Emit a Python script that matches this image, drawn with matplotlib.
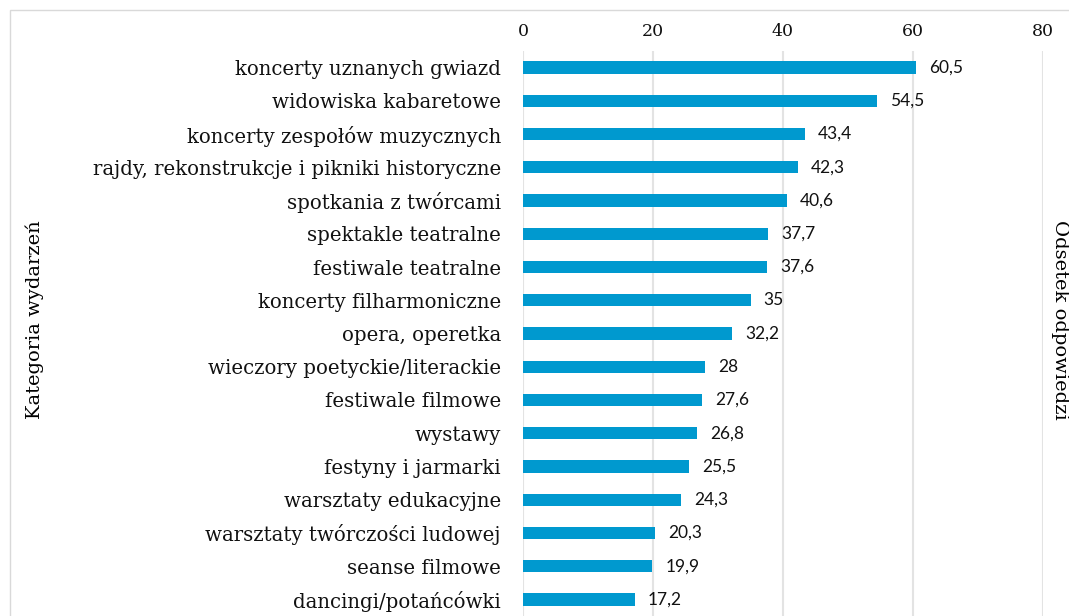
import matplotlib.pyplot as plt
from matplotlib.patches import Rectangle

categories = [
    "koncerty uznanych gwiazd",
    "widowiska kabaretowe",
    "koncerty zespołów muzycznych",
    "rajdy, rekonstrukcje i pikniki historyczne",
    "spotkania z twórcami",
    "spektakle teatralne",
    "festiwale teatralne",
    "koncerty filharmoniczne",
    "opera, operetka",
    "wieczory poetyckie/literackie",
    "festiwale filmowe",
    "wystawy",
    "festyny i jarmarki",
    "warsztaty edukacyjne",
    "warsztaty twórczości ludowej",
    "seanse filmowe",
    "dancingi/potańcówki",
]
values = [60.5, 54.5, 43.4, 42.3, 40.6, 37.7, 37.6, 35, 32.2, 28, 27.6, 26.8, 25.5, 24.3, 20.3, 19.9, 17.2]
x_ticks = [0, 20, 40, 60, 80]

serif = "DejaVu Serif"
bar_color = "#0099cf"
grid_color = "#e3e3e3"

fig = plt.figure(figsize=(10.69, 6.16), dpi=100)
ax = fig.add_axes([523 / 1069, 0.0, 520 / 1069, 565 / 616])

ypos = list(range(len(categories)))
ax.barh(ypos, values, height=0.37, color=bar_color, zorder=3)
ax.set_ylim(len(categories) - 0.5, -0.5)
ax.set_xlim(0, 80)

ax.set_yticks(ypos)
ax.set_yticklabels(categories, fontfamily=serif, fontsize=14.2, color="#111111")
ax.tick_params(axis="y", length=0, pad=16)

ax.xaxis.tick_top()
ax.set_xticks(x_ticks)
ax.set_xticklabels([str(t) for t in x_ticks], fontfamily=serif, fontsize=12.5, color="#111111")
ax.tick_params(axis="x", length=0, pad=8)
ax.grid(axis="x", color=grid_color, linewidth=1.5, zorder=0)

for s in ax.spines.values():
    s.set_visible(False)

for y, v in zip(ypos, values):
    ax.text(v + 2.0, y, f"{v:g}".replace(".", ","), va="center", ha="left",
            fontfamily="Lato", fontsize=12.5, color="#111111")

fig.text(35 / 1069, 1 - 320 / 616, "Kategoria wydarzeń", rotation=90, va="center", ha="center",
         fontfamily=serif, fontsize=14)
fig.text(1060 / 1069, 1 - 320 / 616, "Odsetek odpowiedzi", rotation=-90, va="center", ha="center",
         fontfamily=serif, fontsize=14)

# chart area border
fig.patches.append(Rectangle((10 / 1069, -0.05), 1.2, 1 - 10 / 616 + 0.05, transform=fig.transFigure,
                             fill=False, edgecolor="#d9d9d9", linewidth=1))

fig.savefig("out.png", dpi=100)
